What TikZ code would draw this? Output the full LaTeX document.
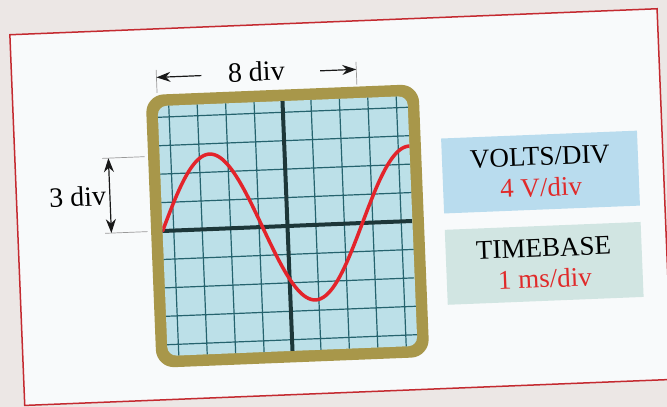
\documentclass[tikz,border=0pt]{standalone}
\usepackage{fontspec}
\setmainfont{Liberation Serif}
\usetikzlibrary{arrows.meta, positioning}
\definecolor{pagebg}{HTML}{ECE7E5}
\definecolor{panelfill}{HTML}{F8FAFB}
\definecolor{paneledge}{HTML}{C42A30}
\definecolor{bezelfill}{HTML}{A8974A}
\definecolor{screenfill}{HTML}{BCE0E8}
\definecolor{gridline}{HTML}{25636E}
\definecolor{axisline}{HTML}{1D3739}
\definecolor{traceline}{HTML}{E3242B}
\definecolor{voltsfill}{HTML}{B9DCEE}
\definecolor{timefill}{HTML}{D1E5E2}
\definecolor{valuetext}{HTML}{E02A2A}

\begin{document}
\begin{tikzpicture}[x=25pt, y=25pt,
  panel/.style={draw=paneledge, fill=panelfill, line width=1.5pt},
  bezel/.style={fill=bezelfill, rounded corners=18pt},
  screen/.style={fill=screenfill, rounded corners=9pt},
  gridln/.style={draw=gridline, line width=1.2pt},
  axis/.style={draw=axisline, line width=4pt},
  trace/.style={draw=traceline, line width=3.5pt, line cap=round},
  tick/.style={draw=gray!80, line width=0.7pt},
  dim/.style={draw=black!90, line width=1.2pt, -{Stealth[length=14pt, width=10pt]}},
  dimboth/.style={dim, {Stealth[length=14pt, width=10pt]}-{Stealth[length=14pt, width=10pt]}},
  setbox/.style={rectangle, minimum width=196pt, minimum height=75pt, inner sep=0pt,
                 align=center, font=\fontsize{27}{31}\selectfont},
  dimlab/.style={inner sep=0pt, font=\fontsize{28}{30}\selectfont},
]
\useasboundingbox (-11.5,-7.24) rectangle (15.18,9.04);
\clip (-11.5,-7.24) rectangle (15.18,9.04);
\fill[pagebg] (-11.5,-7.24) rectangle (15.18,9.04);
\begin{scope}[rotate=2.3, transform shape]
\draw[panel] (-10.79,-6.75) rectangle (15.12,8.09);
% scope face: bezel, screen, graticule
\fill[bezel] (-5.46,-5.46) rectangle (5.46,5.46);
\fill[screen] (-5,-5) rectangle (5,5);
\begin{scope}
  \clip[rounded corners=9pt] (-5,-5) rectangle (5,5);
  \draw[gridln] (-5,-5) grid (5,5);
  \draw[axis] (-5,0) -- (5,0);
  \draw[axis] (0,-5) -- (0,5);
  % trace: period 8 div, peak 3 div
  \draw[trace] plot[domain=-5:5, samples=120, smooth] (\x, {3*sin(45*(\x+5))});
\end{scope}
% horizontal dimension: one period
\coordinate (ptick_a) at (-5,5.53);
\coordinate (ptick_b) at (-5,6.45);
\coordinate (ptick_c) at (3,5.53);
\coordinate (ptick_d) at (3,6.45);
\coordinate (parrow_l) at (-5,6.15);
\coordinate (parrow_r) at (3,6.15);
\draw[tick] (ptick_a) -- (ptick_b);
\draw[tick] (ptick_c) -- (ptick_d);
\node[dimlab] (period) at (-1,6.23) {8 div};
\coordinate (pstart_l) at (-3.2,6.15);
\coordinate (pstart_r) at (1.55,6.15);
\draw[dim] (pstart_l) -- (parrow_l);
\draw[dim] (pstart_r) -- (parrow_r);
% vertical dimension: peak amplitude
\coordinate (atick_a) at (-7.3,3);
\coordinate (atick_b) at (-5.6,3);
\coordinate (atick_c) at (-7.3,0);
\coordinate (atick_d) at (-5.6,0);
\draw[tick] (atick_a) -- (atick_b);
\draw[tick] (atick_c) -- (atick_d);
\coordinate (aarrow_t) at (-7.05,3);
\coordinate (aarrow_b) at (-7.05,0);
\draw[dimboth] (aarrow_b) -- (aarrow_t);
\node[dimlab, anchor=east] (amplitude) at (-7.2,1.5) {3 div};
% control settings
\node[setbox, fill=voltsfill] (volts) at (10.2,1.75) {VOLTS/DIV\\{\color{valuetext}4 V/div}};
\node[setbox, fill=timefill, below=16pt of volts] (timebase) {TIMEBASE\\{\color{valuetext}1 ms/div}};
\end{scope}
\end{tikzpicture}
\end{document}
